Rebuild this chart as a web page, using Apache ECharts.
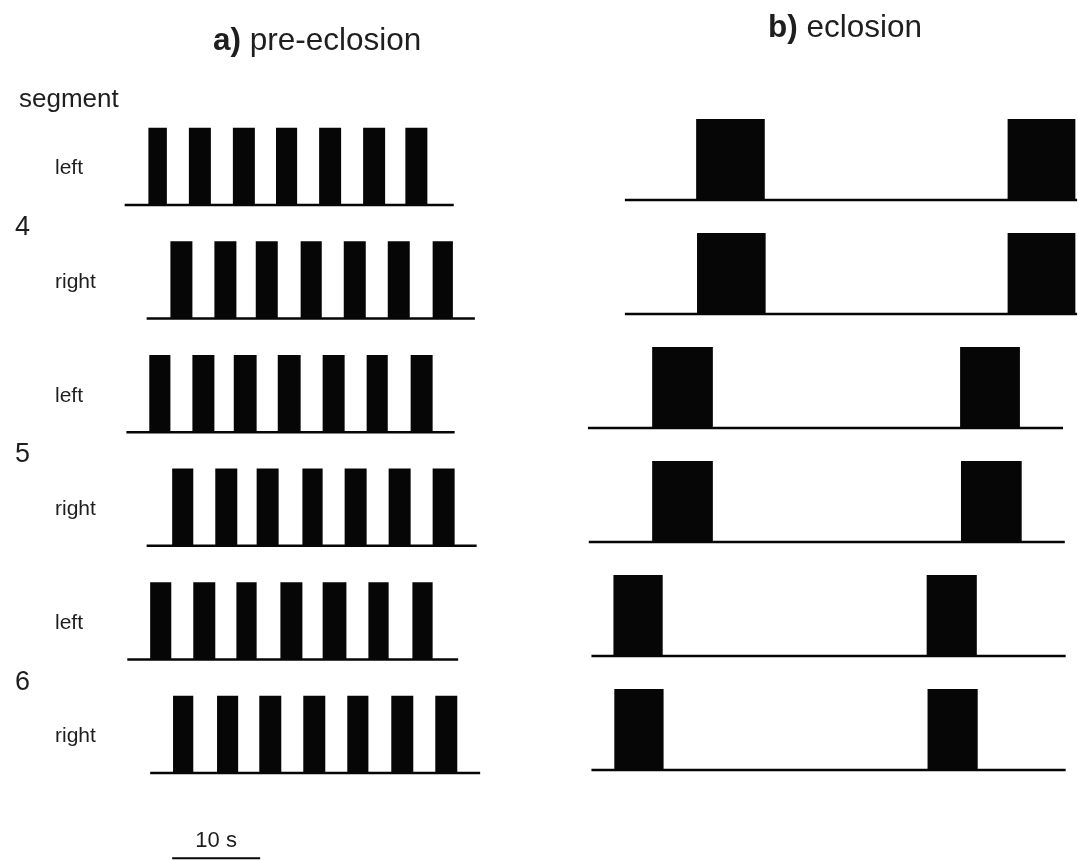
<!DOCTYPE html>
<html>
<head>
<meta charset="utf-8">
<title>Segmental motor bursts: pre-eclosion vs eclosion</title>
<script src="https://cdn.jsdelivr.net/npm/echarts@6/dist/echarts.min.js"></script>
<style>
  html, body { margin: 0; padding: 0; background: #ffffff; }
  #chart { width: 1078px; height: 860px; }
</style>
</head>
<body>
<div id="chart"></div>
<script>
// Traces, top to bottom
const segments = ['4', '4', '5', '5', '6', '6'];
const sides = ['left', 'right', 'left', 'right', 'left', 'right'];

// a) pre-eclosion: recorded span of each trace and burst [onset, offset] in seconds
const preSpans = [[2.8, 40.2], [5.3, 42.6], [3.0, 40.3], [5.3, 42.8], [3.1, 40.7], [5.7, 43.2]];
const preBursts = [
  [[5.5, 7.6], [10.1, 12.6], [15.1, 17.6], [20.0, 22.4], [24.9, 27.4], [29.9, 32.4], [34.7, 37.2]],
  [[8.0, 10.5], [13.0, 15.5], [17.7, 20.2], [22.8, 25.2], [27.7, 30.2], [32.7, 35.2], [37.8, 40.1]],
  [[5.6, 8.0], [10.5, 13.0], [15.2, 17.8], [20.2, 22.8], [25.3, 27.8], [30.3, 32.7], [35.3, 37.8]],
  [[8.2, 10.6], [13.1, 15.6], [17.8, 20.3], [23.0, 25.3], [27.8, 30.3], [32.8, 35.3], [37.8, 40.3]],
  [[5.7, 8.1], [10.6, 13.1], [15.5, 17.8], [20.5, 23.0], [25.3, 28.0], [30.5, 32.8], [35.5, 37.8]],
  [[8.3, 10.6], [13.3, 15.7], [18.1, 20.6], [23.1, 25.6], [28.1, 30.5], [33.1, 35.6], [38.1, 40.6]]
];

// b) eclosion
const eclSpans = [[5.1, 56.5], [5.1, 56.5], [0.9, 54.9], [1.0, 55.1], [1.3, 55.2], [1.3, 55.2]];
const eclBursts = [
  [[13.2, 21.0], [48.6, 56.3]],
  [[13.3, 21.1], [48.6, 56.3]],
  [[8.2, 15.1], [43.2, 50.0]],
  [[8.2, 15.1], [43.3, 50.2]],
  [[3.8, 9.4], [39.4, 45.1]],
  [[3.9, 9.5], [39.5, 45.2]]
];

// time scale bar
const scaleBarStart = 8.2;
const scaleBarSeconds = 10;
const scaleBarLabel = '10 s';

// ---- layout ----
const ROWS = sides.length;
const PX_PER_S = 8.8;
const FONT = '"Liberation Sans", Arial, Helvetica, sans-serif';
const INK = '#060606';
const TEXT = '#1e1e1e';
const LINE_W = 2.5;

const panelA = { left: 100, top: 91.4, height: 681.6, xMax: 46, barH: 0.68 };
const panelB = { left: 580, top: 86, height: 684, xMax: 56.6, barH: 0.71 };

function baseOf(row) { return ROWS - 1 - row; }

// flatten to [onset, offset, row]
function burstRows(list) {
  const out = [];
  list.forEach((bursts, row) => bursts.forEach(b => out.push([b[0], b[1], row])));
  return out;
}
function spanRows(list) {
  return list.map((s, row) => [s[0], s[1], row]);
}

function renderBurst(barH) {
  return function (params, api) {
    const base = baseOf(api.value(2));
    const p0 = api.coord([api.value(0), base]);
    const p1 = api.coord([api.value(1), base + barH]);
    return {
      type: 'rect',
      shape: { x: p0[0], y: p1[1], width: p1[0] - p0[0], height: p0[1] - p1[1] },
      style: { fill: INK }
    };
  };
}

function renderTrace(params, api) {
  const base = baseOf(api.value(2));
  const p0 = api.coord([api.value(0), base]);
  const p1 = api.coord([api.value(1), base]);
  return {
    type: 'line',
    shape: { x1: p0[0], y1: p0[1], x2: p1[0], y2: p1[1] },
    style: { stroke: INK, lineWidth: LINE_W }
  };
}

function renderRowLabel(params, api) {
  const row = api.value(0);
  const base = baseOf(row);
  const sideP = api.coord([0, base + 0.32]);
  const children = [{
    type: 'text', x: sideP[0] - 45, y: sideP[1],
    style: { text: sides[row], fontSize: 21, fontFamily: FONT, fill: TEXT, align: 'left', verticalAlign: 'middle' }
  }];
  if (row % 2 === 0) {
    const segP = api.coord([0, base - 0.2]);
    children.push({
      type: 'text', x: segP[0] - 85, y: segP[1],
      style: { text: segments[row], fontSize: 27, fontFamily: FONT, fill: TEXT, align: 'left', verticalAlign: 'middle' }
    });
  }
  return { type: 'group', children };
}

function renderScaleBar(params, api) {
  const p0 = api.coord([api.value(0), -0.75]);
  const p1 = api.coord([api.value(1), -0.75]);
  const pt = api.coord([(api.value(0) + api.value(1)) / 2, -0.6]);
  return {
    type: 'group',
    children: [
      { type: 'line', shape: { x1: p0[0], y1: p0[1], x2: p1[0], y2: p1[1] }, style: { stroke: INK, lineWidth: 2 } },
      { type: 'text', x: pt[0], y: pt[1],
        style: { text: scaleBarLabel, fontSize: 22, fontFamily: FONT, fill: TEXT, align: 'center', verticalAlign: 'middle' } }
    ]
  };
}

function grid(p) {
  return { left: p.left, top: p.top, width: p.xMax * PX_PER_S, height: p.height };
}
function xAxis(p, i) {
  return { type: 'value', gridIndex: i, min: 0, max: p.xMax, show: false };
}
function yAxis(i) {
  return { type: 'value', gridIndex: i, min: 0, max: ROWS, show: false };
}

const chart = echarts.init(document.getElementById('chart'), null, { renderer: 'canvas' });

chart.setOption({
  animation: false,
  backgroundColor: '#ffffff',
  title: [
    {
      text: '{b|a)} pre-eclosion', left: 208, top: 20,
      textStyle: { fontSize: 31.5, fontWeight: 'normal', fontFamily: FONT, color: TEXT,
        rich: { b: { fontSize: 31.5, fontWeight: 'bold', fontFamily: FONT, color: TEXT } } }
    },
    {
      text: '{b|b)} eclosion', left: 763, top: 7,
      textStyle: { fontSize: 31.5, fontWeight: 'normal', fontFamily: FONT, color: TEXT,
        rich: { b: { fontSize: 31.5, fontWeight: 'bold', fontFamily: FONT, color: TEXT } } }
    },
    {
      text: 'segment', left: 14, top: 82,
      textStyle: { fontSize: 26, fontWeight: 'normal', fontFamily: FONT, color: TEXT }
    }
  ],
  grid: [grid(panelA), grid(panelB)],
  xAxis: [xAxis(panelA, 0), xAxis(panelB, 1)],
  yAxis: [yAxis(0), yAxis(1)],
  series: [
    { type: 'custom', name: 'pre-eclosion traces', xAxisIndex: 0, yAxisIndex: 0,
      data: spanRows(preSpans), renderItem: renderTrace, silent: true },
    { type: 'custom', name: 'pre-eclosion bursts', xAxisIndex: 0, yAxisIndex: 0,
      data: burstRows(preBursts), renderItem: renderBurst(panelA.barH), silent: true },
    { type: 'custom', name: 'eclosion traces', xAxisIndex: 1, yAxisIndex: 1,
      data: spanRows(eclSpans), renderItem: renderTrace, silent: true },
    { type: 'custom', name: 'eclosion bursts', xAxisIndex: 1, yAxisIndex: 1,
      data: burstRows(eclBursts), renderItem: renderBurst(panelB.barH), silent: true },
    { type: 'custom', name: 'row labels', xAxisIndex: 0, yAxisIndex: 0,
      data: sides.map((s, i) => [i]), renderItem: renderRowLabel, silent: true },
    { type: 'custom', name: 'scale bar', xAxisIndex: 0, yAxisIndex: 0,
      data: [[scaleBarStart, scaleBarStart + scaleBarSeconds]], renderItem: renderScaleBar, silent: true }
  ]
});
</script>
</body>
</html>
